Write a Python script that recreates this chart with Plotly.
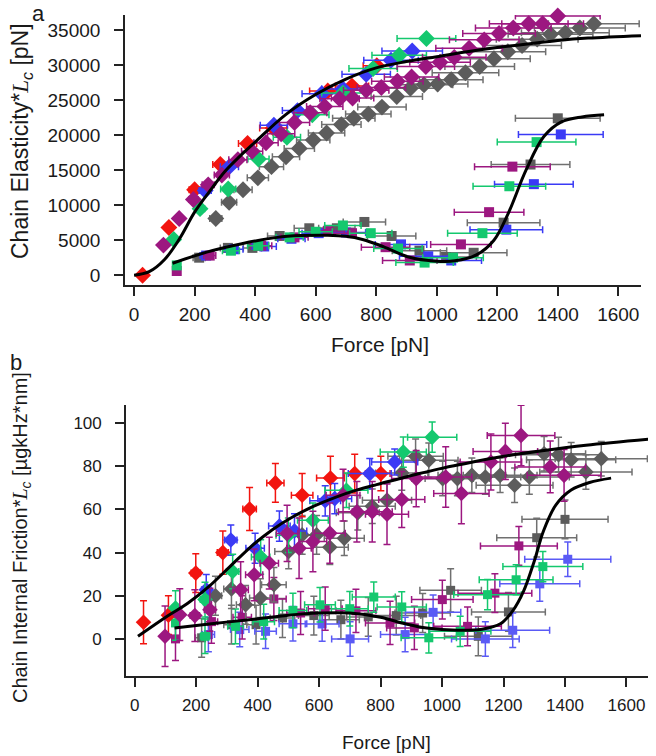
import plotly.graph_objects as go

W, H = 656, 756

# ---------------- Panel a data (Force [pN], Chain Elasticity*Lc [pN]) ----------------
A_RED_D_X = [28, 115, 200, 285, 375, 460, 640, 720, 802]
A_RED_D_Y = [0, 6800, 12200, 15800, 18800, 21000, 26300, 27000, 29900]
A_RED_D_EX = [10, 12, 18, 25, 30, 45, 60, 55, 45]

A_BLUE_D_X = [235, 315, 462, 540, 620, 690, 767, 849, 919]
A_BLUE_D_Y = [12100, 15500, 21400, 23500, 25900, 26600, 28700, 30700, 32000]
A_BLUE_D_EX = [20, 30, 45, 50, 65, 70, 80, 90, 100]

A_GREEN_D_X = [131, 218, 311, 411, 505, 589, 690, 790, 876, 966]
A_GREEN_D_Y = [5100, 9500, 12300, 16600, 19700, 22900, 26000, 29500, 31400, 33800]
A_GREEN_D_EX = [10, 15, 25, 35, 45, 55, 70, 80, 90, 97]

A_PURP_D_X = [97, 149, 196, 245, 290, 343, 390, 436, 486, 530, 582, 630, 679, 722,
              767, 817, 870, 917, 964, 1011, 1058, 1107, 1157, 1206, 1253, 1304, 1350, 1400]
A_PURP_D_Y = [4300, 8100, 10800, 12900, 14300, 16500, 17700, 18900, 20200, 21800, 23200, 24100, 25200, 25300,
              26400, 26800, 27700, 28300, 29800, 30400, 31100, 32400, 33600, 34500, 35300, 35900, 35900, 37000]
A_PURP_D_EX = [8, 10, 15, 20, 25, 30, 35, 40, 45, 50, 55, 60, 65, 70,
               75, 80, 85, 90, 95, 100, 105, 110, 115, 120, 125, 130, 135, 140]

A_GRAY_D_X = [270, 314, 360, 409, 454, 502, 546, 592, 636, 685, 726, 774, 819, 868,
              913, 958, 1003, 1048, 1095, 1142, 1189, 1235, 1282, 1332, 1376, 1425, 1473, 1519]
A_GRAY_D_Y = [8100, 10400, 12200, 13900, 15500, 16900, 18100, 19300, 20300, 21500, 22400, 23000, 24000, 25500,
              26700, 27200, 27300, 27900, 28900, 29800, 30900, 31900, 32800, 33700, 34400, 34600, 35300, 35900]
A_GRAY_D_EX = [20, 25, 30, 35, 40, 45, 50, 55, 60, 65, 70, 75, 80, 85,
               90, 95, 100, 105, 110, 115, 120, 125, 130, 135, 140, 145, 150, 150]

A_GRAY_S_X = [215, 310, 391, 481, 579, 670, 761, 851, 943, 1031, 1122, 1221, 1310, 1400]
A_GRAY_S_Y = [2500, 3900, 3900, 5600, 6700, 6700, 7600, 5600, 3500, 2600, 3200, 7500, 15800, 22400]
A_GRAY_S_EX = [20, 25, 30, 40, 50, 60, 70, 80, 90, 100, 110, 120, 130, 140]

A_GREEN_S_X = [141, 320, 410, 514, 600, 690, 782, 872, 960, 1054, 1151, 1240, 1330]
A_GREEN_S_Y = [1400, 3500, 4200, 5400, 6200, 7100, 6000, 3800, 1800, 2500, 6000, 12700, 19000]
A_GREEN_S_EX = [10, 28, 35, 45, 55, 60, 70, 80, 95, 100, 115, 120, 130]

A_PURP_S_X = [141, 250, 420, 530, 640, 720, 831, 911, 1080, 1173, 1250]
A_PURP_S_Y = [600, 2800, 4200, 5400, 6300, 6000, 4000, 2100, 4400, 9000, 15500]
A_PURP_S_EX = [8, 20, 35, 45, 55, 65, 80, 90, 100, 115, 125]

A_BLUE_S_X = [238, 330, 430, 520, 610, 700, 882, 972, 1048, 1230, 1321, 1410]
A_BLUE_S_Y = [2800, 3700, 4100, 5200, 6000, 6100, 4400, 2700, 2100, 6500, 13000, 20100]
A_BLUE_S_EX = [20, 30, 40, 45, 55, 65, 85, 95, 100, 120, 130, 140]

A_FIT1_X = [0, 50, 100, 150, 200, 250, 300, 350, 400, 500, 600, 700, 800, 900,
            1000, 1100, 1200, 1300, 1400, 1500, 1675]
A_FIT1_Y = [0, 500, 2200, 5200, 9000, 12000, 14800, 17000, 19000, 22900, 25800, 28000, 29600, 30500,
            31200, 31900, 32500, 33000, 33500, 33850, 34200]

A_FIT2_X = [127, 240, 356, 473, 550, 640, 700, 755, 825, 907, 1000, 1060, 1131, 1189, 1236,
            1295, 1354, 1412, 1480, 1553]
A_FIT2_Y = [1700, 3300, 4500, 5400, 5650, 5700, 5550, 5100, 4050, 2600, 2000, 2050, 2900, 5000, 8800,
            15000, 19800, 21900, 22600, 22900]

# ---------------- Panel b data (Force [pN], Chain Internal Friction*Lc) ----------------
B_RED_D_X = [29, 110, 199, 287, 374, 458, 545, 637, 716, 801]
B_RED_D_Y = [7.7, 11, 30.5, 40, 60.2, 72.3, 66.6, 74.6, 76.6, 76.6]
B_RED_D_EX = [8, 10, 15, 18, 22, 28, 35, 45, 35, 30]
B_RED_D_EY = [10, 9, 9, 10, 10, 9, 10, 10, 9, 8]

B_BLUE_D_X = [233, 313, 392, 471, 520, 620, 651, 765, 846]
B_BLUE_D_Y = [22.8, 45.8, 42, 52.3, 50, 64, 65, 76.6, 82]
B_BLUE_D_EX = [15, 20, 30, 35, 40, 50, 55, 70, 75]
B_BLUE_D_EY = [7, 7, 7, 7, 8, 7, 7, 7, 6]

B_GREEN_D_X = [133, 229, 319, 410, 500, 580, 689, 874, 968]
B_GREEN_D_Y = [14.3, 18.2, 31.2, 38, 48, 55, 68.9, 86.6, 93.5]
B_GREEN_D_EX = [10, 15, 20, 30, 40, 50, 70, 75, 80]
B_GREEN_D_EY = [8, 8, 8, 8, 8, 8, 8, 7, 7]

B_PURP_D_X = [99, 147, 196, 245, 345, 389, 438, 496, 535, 580, 635, 678, 723, 773, 821, 869,
              916, 1012, 1063, 1159, 1206, 1257, 1352, 1397]
B_PURP_D_Y = [1.2, 11.2, 10.8, 13.5, 22.8, 29.7, 35.1, 48.9, 42, 45.1, 49, 66.6, 58.9, 58.9, 57.8, 64.6,
              74.3, 75, 67.4, 82, 86.9, 94.3, 79.7, 75.8]
B_PURP_D_EX = [8, 10, 15, 18, 25, 28, 30, 35, 40, 45, 50, 55, 60, 65, 70, 75,
               80, 85, 90, 100, 105, 110, 115, 120]
B_PURP_D_EY = [14, 12, 12, 10, 13, 12, 12, 13, 14, 14, 14, 12, 14, 14, 14, 13,
               13, 14, 14, 13, 13, 14, 12, 12]

B_GRAY_D_X = [263, 315, 361, 409, 453, 501, 545, 592, 635, 682, 726, 773, 821, 869,
              914, 957, 1002, 1050, 1097, 1141, 1189, 1236, 1284, 1332, 1379, 1420, 1468, 1518]
B_GRAY_D_Y = [20, 23.1, 15.8, 18.9, 25.1, 40.5, 48.2, 48.2, 42.5, 46.6, 58.5, 61.5, 64.3, 76.9,
              84.6, 82.8, 74.3, 74.3, 75.8, 75, 75.8, 71.2, 75, 85.8, 85.4, 83, 77.4, 83.5]
B_GRAY_D_EX = [20, 25, 30, 35, 40, 45, 50, 55, 60, 65, 70, 75, 80, 85,
               90, 95, 100, 105, 110, 115, 120, 125, 130, 135, 140, 145, 150, 150]
B_GRAY_D_EY = [9, 9, 9, 9, 8, 8, 9, 9, 8, 8, 8, 8, 8, 8,
               8, 8, 8, 8, 8, 8, 8, 8, 8, 8, 8, 8, 8, 8]

B_GRAY_S_X = [218, 315, 395, 481, 583, 671, 760, 851, 937, 1028, 1118, 1216, 1308, 1400]
B_GRAY_S_Y = [0.5, 6.6, 6.6, 9.7, 10.8, 8.9, 10.2, 10.8, 12, 22.5, 1.2, 12.5, 46.9, 55.4]
B_GRAY_S_EX = [20, 25, 30, 40, 50, 60, 70, 80, 90, 100, 110, 120, 130, 140]
B_GRAY_S_EY = [9, 9, 9, 9, 9, 9, 9, 9, 9, 10, 9, 9, 9, 9]

B_GREEN_S_X = [133, 229, 328, 420, 515, 603, 700, 778, 869, 957, 1059, 1148, 1241, 1328]
B_GREEN_S_Y = [7.4, 1.2, 5.8, 8, 13.2, 15.8, 14, 19.4, 14.8, 0.5, 3.5, 20.5, 27.4, 33.5]
B_GREEN_S_EX = [10, 15, 25, 35, 45, 50, 60, 70, 80, 90, 100, 110, 120, 130]
B_GREEN_S_EY = [8, 8, 8, 8, 8, 8, 8, 7, 7, 7, 7, 7, 7, 7]

B_BLUE_S_X = [240, 342, 426, 515, 610, 701, 880, 971, 1141, 1230, 1318, 1409]
B_BLUE_S_Y = [2, 4.3, 3.5, 7, 6.9, 0, 2, 12.3, 0, 4, 25.5, 36.9]
B_BLUE_S_EX = [20, 30, 35, 45, 55, 60, 80, 90, 110, 120, 130, 140]
B_BLUE_S_EY = [8, 8, 8, 8, 8, 8, 8, 8, 8, 8, 8, 8]

B_PURP_S_X = [133, 250, 350, 453, 540, 620, 720, 831, 910, 1001, 1083, 1172, 1250]
B_PURP_S_Y = [0, 8, 10, 18.5, 12, 14, 13, 7.4, 5.1, 18.2, 5.8, 21.2, 43.1]
B_PURP_S_EX = [8, 20, 30, 40, 45, 55, 65, 80, 90, 100, 110, 120, 125]
B_PURP_S_EY = [10, 10, 10, 10, 10, 10, 10, 10, 10, 9, 9, 9, 9]

B_FIT1_X = [11, 106, 174, 242, 310, 379, 447, 515, 583, 651, 719, 787, 855, 923,
            991, 1059, 1196, 1332, 1468, 1672]
B_FIT1_Y = [1.2, 10.5, 16.6, 24.3, 33.5, 42.8, 50.5, 56.6, 61.5, 65.5, 68.8, 71.5, 74, 76.5,
            78.8, 80.8, 84.5, 87.3, 89.7, 92.5]

B_FIT2_X = [130, 250, 380, 500, 600, 700, 800, 880, 950, 1050, 1130, 1190, 1230, 1265, 1300,
            1330, 1370, 1420, 1480, 1550]
B_FIT2_Y = [5, 7, 9, 11, 12, 12, 10, 7, 5, 4, 4.5, 7, 13, 22, 36,
            50, 62, 69, 72.5, 74.5]

# ---------------- styling ----------------
RED = "#f2140f"
BLUE = "#3a3af5"
GREEN = "#14c86e"
PURP = "#9c1780"
GRAY = "#5c5c5c"
GRAY_E = "#707070"
BLUE_L = "#5a5af5"

FONT = "Liberation Sans, Arial, Helvetica, sans-serif"

fig = go.Figure()


def add_pts(x, y, ex, ey, color, ecolor, symbol, size, xa, ya):
    err_x = dict(type="data", array=ex, color=ecolor, thickness=1.5, width=3.5)
    kw = dict(x=x, y=y, mode="markers", xaxis=xa, yaxis=ya, cliponaxis=False,
              marker=dict(symbol=symbol, size=size, color=color, line=dict(width=0)),
              error_x=err_x, showlegend=False, hoverinfo="skip")
    if ey is not None:
        kw["error_y"] = dict(type="data", array=ey, color=ecolor, thickness=1.5, width=3.5)
    fig.add_trace(go.Scatter(**kw))


# Panel a
add_pts(A_GRAY_S_X, A_GRAY_S_Y, A_GRAY_S_EX, None, GRAY, GRAY_E, "square", 10, "x", "y")
add_pts(A_BLUE_S_X, A_BLUE_S_Y, A_BLUE_S_EX, None, BLUE, BLUE, "square", 10, "x", "y")
add_pts(A_PURP_S_X, A_PURP_S_Y, A_PURP_S_EX, None, PURP, PURP, "square", 10, "x", "y")
add_pts(A_GREEN_S_X, A_GREEN_S_Y, A_GREEN_S_EX, None, GREEN, GREEN, "square", 10, "x", "y")
add_pts(A_GRAY_D_X, A_GRAY_D_Y, A_GRAY_D_EX, None, GRAY, GRAY_E, "diamond", 13, "x", "y")
add_pts(A_RED_D_X, A_RED_D_Y, A_RED_D_EX, None, RED, RED, "diamond", 13, "x", "y")
add_pts(A_BLUE_D_X, A_BLUE_D_Y, A_BLUE_D_EX, None, BLUE, BLUE, "diamond", 13, "x", "y")
add_pts(A_GREEN_D_X, A_GREEN_D_Y, A_GREEN_D_EX, None, GREEN, GREEN, "diamond", 13, "x", "y")
add_pts(A_PURP_D_X, A_PURP_D_Y, A_PURP_D_EX, None, PURP, PURP, "diamond", 13, "x", "y")

for fx, fy in ((A_FIT1_X, A_FIT1_Y), (A_FIT2_X, A_FIT2_Y)):
    fig.add_trace(go.Scatter(x=fx, y=fy, mode="lines", xaxis="x", yaxis="y",
                             line=dict(color="black", width=3, shape="spline", smoothing=1.0),
                             showlegend=False, hoverinfo="skip"))

# Panel b
add_pts(B_GRAY_S_X, B_GRAY_S_Y, B_GRAY_S_EX, B_GRAY_S_EY, GRAY, GRAY_E, "square", 9, "x2", "y2")
add_pts(B_BLUE_S_X, B_BLUE_S_Y, B_BLUE_S_EX, B_BLUE_S_EY, BLUE_L, BLUE_L, "square", 9, "x2", "y2")
add_pts(B_PURP_S_X, B_PURP_S_Y, B_PURP_S_EX, B_PURP_S_EY, PURP, PURP, "square", 9, "x2", "y2")
add_pts(B_GREEN_S_X, B_GREEN_S_Y, B_GREEN_S_EX, B_GREEN_S_EY, GREEN, GREEN, "square", 9, "x2", "y2")
add_pts(B_GRAY_D_X, B_GRAY_D_Y, B_GRAY_D_EX, B_GRAY_D_EY, GRAY, GRAY_E, "diamond", 12, "x2", "y2")
add_pts(B_RED_D_X, B_RED_D_Y, B_RED_D_EX, B_RED_D_EY, RED, RED, "diamond", 12, "x2", "y2")
add_pts(B_BLUE_D_X, B_BLUE_D_Y, B_BLUE_D_EX, B_BLUE_D_EY, BLUE, BLUE, "diamond", 12, "x2", "y2")
add_pts(B_GREEN_D_X, B_GREEN_D_Y, B_GREEN_D_EX, B_GREEN_D_EY, GREEN, GREEN, "diamond", 12, "x2", "y2")
add_pts(B_PURP_D_X, B_PURP_D_Y, B_PURP_D_EX, B_PURP_D_EY, PURP, PURP, "diamond", 12, "x2", "y2")

for fx, fy in ((B_FIT1_X, B_FIT1_Y), (B_FIT2_X, B_FIT2_Y)):
    fig.add_trace(go.Scatter(x=fx, y=fy, mode="lines", xaxis="x2", yaxis="y2",
                             line=dict(color="black", width=3, shape="spline", smoothing=1.0),
                             showlegend=False, hoverinfo="skip"))


def px_x(p):
    return p / W


def px_y(p):
    return 1 - p / H


axis_common = dict(showline=True, linecolor="#222", linewidth=1.7, ticks="outside",
                   tickcolor="#222", tickwidth=1.7, showgrid=False, zeroline=False,
                   mirror=False)

fig.update_layout(
    width=W, height=H, autosize=False,
    margin=dict(l=0, r=0, t=0, b=0),
    paper_bgcolor="white", plot_bgcolor="white",
    font=dict(family=FONT, color="#1a1a1a"),
    xaxis=dict(domain=[px_x(125), px_x(641)], range=[-30, 1675], anchor="y",
               tickvals=[0, 200, 400, 600, 800, 1000, 1200, 1400, 1600], ticklen=9,
               ticklabelstandoff=2,
               tickfont=dict(size=19, family=FONT), **axis_common),
    yaxis=dict(domain=[px_y(285), px_y(15)], range=[-1400, 37150], anchor="x",
               tickvals=[0, 5000, 10000, 15000, 20000, 25000, 30000, 35000], tickformat="d",
               ticklen=9, ticklabelstandoff=10,
               tickfont=dict(size=19, family=FONT), **axis_common),
    xaxis2=dict(domain=[px_x(126), px_x(648)], range=[-28, 1670], anchor="y2",
                tickvals=[0, 200, 400, 600, 800, 1000, 1200, 1400, 1600], ticklen=9,
                ticklabelstandoff=4,
                tickfont=dict(size=17, family=FONT), **axis_common),
    yaxis2=dict(domain=[px_y(676), px_y(405)], range=[-17.2, 108.4], anchor="x2",
                tickvals=[0, 20, 40, 60, 80, 100], ticklen=9, ticklabelstandoff=10,
                tickfont=dict(size=17, family=FONT), **axis_common),
)

LC = "<span style=\"font-family:'Liberation Serif',serif;font-style:italic\">L</span><sub><i>c</i></sub>"

ann = [
    dict(text="a", x=px_x(38), y=px_y(14), font=dict(size=22)),
    dict(text="b", x=px_x(16), y=px_y(362), font=dict(size=22)),
    dict(text="Chain Elasticity*" + LC + " [pN]", x=px_x(21), y=px_y(141), textangle=-90,
         font=dict(size=23)),
    dict(text="Chain Internal Friction*" + LC + " [µgkHz*nm]", x=px_x(21), y=px_y(538),
         textangle=-90, font=dict(size=20)),
    dict(text="Force [pN]", x=px_x(380), y=px_y(344), font=dict(size=21)),
    dict(text="Force [pN]", x=px_x(386), y=px_y(742), font=dict(size=19)),
]
for a in ann:
    a.update(xref="paper", yref="paper", showarrow=False, xanchor="center", yanchor="middle")
    a["font"].update(family=FONT, color="#1a1a1a")
fig.update_layout(annotations=ann)

fig.write_html("out.html", config={"displayModeBar": False},
               post_script="document.body.style.margin='0';")
